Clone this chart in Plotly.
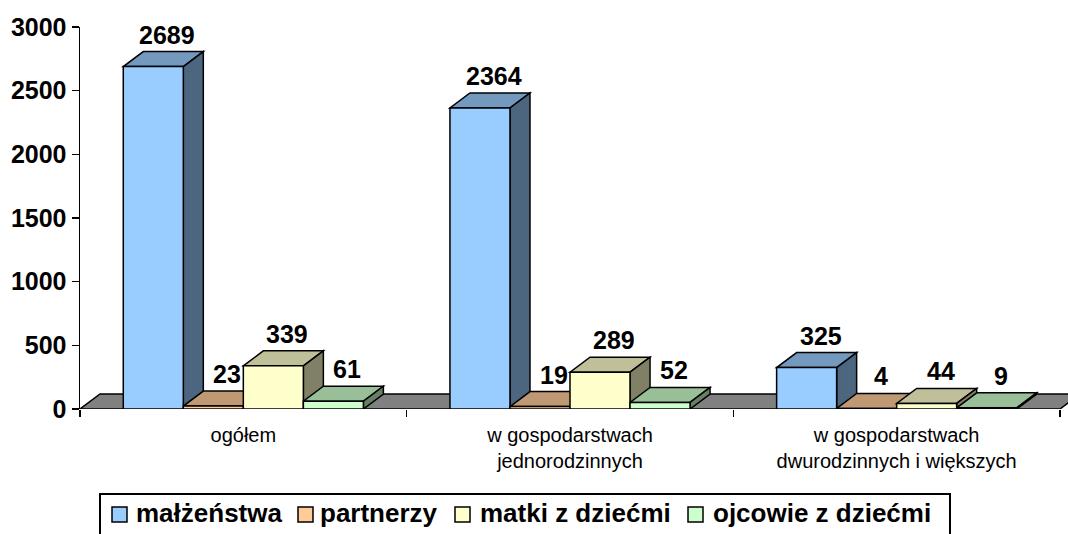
import plotly.graph_objects as go

# ---- data ----
categories = ["ogółem", "w gospodarstwach<br>jednorodzinnych",
              "w gospodarstwach<br>dwurodzinnych i większych"]
series_names = ["małżeństwa", "partnerzy", "matki z dziećmi", "ojcowie z dziećmi"]
malzenstwa = [2689, 2364, 325]
partnerzy = [23, 19, 4]
matki = [339, 289, 44]
ojcowie = [61, 52, 9]
y_ticks = [0, 500, 1000, 1500, 2000, 2500, 3000]

series_values = [malzenstwa, partnerzy, matki, ojcowie]

# ---- style ----
front_colors = ["#99CCFF", "#FFCC99", "#FFFFCC", "#CCFFCC"]
top_colors = ["#7399BF", "#BF9973", "#BFBF99", "#99BF99"]
side_colors = ["#4D6680", "#806650", "#808066", "#668066"]
FONT = "Liberation Sans, Arial, sans-serif"

W, H = 1068, 534
ML, MR, MT, MB = 80, 0, 27, 125
plot_w = W - ML - MR
plot_h = H - MT - MB
cat_px = 980 / 3.0                       # pixel width of one category
x0 = -0.5
x1 = x0 + plot_w / cat_px
y0, y1 = 0, 3000
px_x = (x1 - x0) / plot_w                # data units per pixel
px_y = (y1 - y0) / plot_h
DX = 20 * px_x                           # 3D depth offsets (data units)
DY = 15 * px_y

bargap = 0.265
n = len(series_values)
bw = (1 - bargap) / n

fig = go.Figure()
for i, (name, vals) in enumerate(zip(series_names, series_values)):
    fig.add_trace(go.Bar(
        x=list(range(len(categories))), y=vals, name=name,
        marker=dict(color=front_colors[i], line=dict(color="black", width=1.5)),
        hoverinfo="skip", showlegend=False))

shapes = []
nc = len(categories)
# floor
shapes.append(dict(type="path", xref="x", yref="y", layer="below",
                   path=f"M{-0.5},0 L{nc-0.5},0 L{nc-0.5+DX},{DY} L{-0.5+DX},{DY} Z",
                   fillcolor="#808080", line=dict(color="black", width=1.5)))

annotations = []
for c in range(nc):
    for i, vals in enumerate(series_values):
        v = vals[c]
        xl = c - (1 - bargap) / 2 + i * bw
        xr = xl + bw
        shapes.append(dict(type="path", xref="x", yref="y", layer="below",
                           path=f"M{xl},{v} L{xr},{v} L{xr+DX},{v+DY} L{xl+DX},{v+DY} Z",
                           fillcolor=top_colors[i], line=dict(color="black", width=1.5)))
        shapes.append(dict(type="path", xref="x", yref="y", layer="below",
                           path=f"M{xr},0 L{xr+DX},{DY} L{xr+DX},{v+DY} L{xr},{v} Z",
                           fillcolor=side_colors[i], line=dict(color="black", width=1.5)))
        annotations.append(dict(x=(xl + xr) / 2, y=v + DY, xref="x", yref="y",
                                text=str(v), showarrow=False, xanchor="center",
                                yanchor="bottom", xshift=14, yshift=1,
                                font=dict(family=FONT, size=25, color="black",
                                          weight="bold")))

# ---- legend (drawn manually, pixel layout) ----
def px2paper_x(px):
    return (px - ML) / plot_w

def px2paper_y(py):
    return (MT + plot_h - py) / plot_h

legend_box = (100, 494, 950, 540)
legend_sq = [112, 298, 455, 688]          # square left edges (px)
legend_txt = [(135, 283), (320, 438), (478, 672), (710, 933)]  # text spans (px)
SQ = 15
sq_top = 507
shapes.append(dict(type="rect", xref="paper", yref="paper", layer="above",
                   x0=px2paper_x(legend_box[0]), x1=px2paper_x(legend_box[2]),
                   y0=px2paper_y(legend_box[3]), y1=px2paper_y(legend_box[1]),
                   fillcolor="white", line=dict(color="black", width=2)))
for i, name in enumerate(series_names):
    shapes.append(dict(type="rect", xref="paper", yref="paper", layer="above",
                       x0=px2paper_x(legend_sq[i]), x1=px2paper_x(legend_sq[i] + SQ),
                       y0=px2paper_y(sq_top + SQ), y1=px2paper_y(sq_top),
                       fillcolor=front_colors[i], line=dict(color="black", width=1.5)))
    tx = (legend_txt[i][0] + legend_txt[i][1]) / 2
    annotations.append(dict(x=px2paper_x(tx), y=px2paper_y(sq_top + SQ / 2 - 1.5),
                            xref="paper", yref="paper", text=name, showarrow=False,
                            xanchor="center", yanchor="middle",
                            font=dict(family=FONT, size=26, color="black",
                                      weight="bold")))

fig.update_layout(
    width=W, height=H,
    margin=dict(l=ML, r=MR, t=MT, b=MB, pad=0, autoexpand=False),
    paper_bgcolor="white", plot_bgcolor="white",
    barmode="group", bargap=bargap, bargroupgap=0,
    shapes=shapes, annotations=annotations,
    showlegend=False,
    xaxis=dict(range=[x0, x1], tickvals=list(range(nc)), ticktext=categories,
               ticks="", showline=False, showgrid=False, zeroline=False,
               automargin=False,
               tickfont=dict(family=FONT, size=20, color="black"),
               ticklabelstandoff=12,
               minor=dict(tick0=0.5, dtick=1, ticks="outside", ticklen=7,
                          tickwidth=1.5, tickcolor="black", showgrid=False)),
    yaxis=dict(range=[y0, y1], tickvals=y_ticks, showline=True, linecolor="black",
               linewidth=1.5, ticks="outside", ticklen=7, tickwidth=1.5,
               tickcolor="black", showgrid=False, zeroline=False, automargin=False,
               tickfont=dict(family=FONT, size=25, color="black", weight="bold")),
)

fig.write_html("out.html",
               config={"displayModeBar": False, "staticPlot": True},
               post_script="document.body.style.margin='0';"
                           "document.body.style.overflow='hidden';")
